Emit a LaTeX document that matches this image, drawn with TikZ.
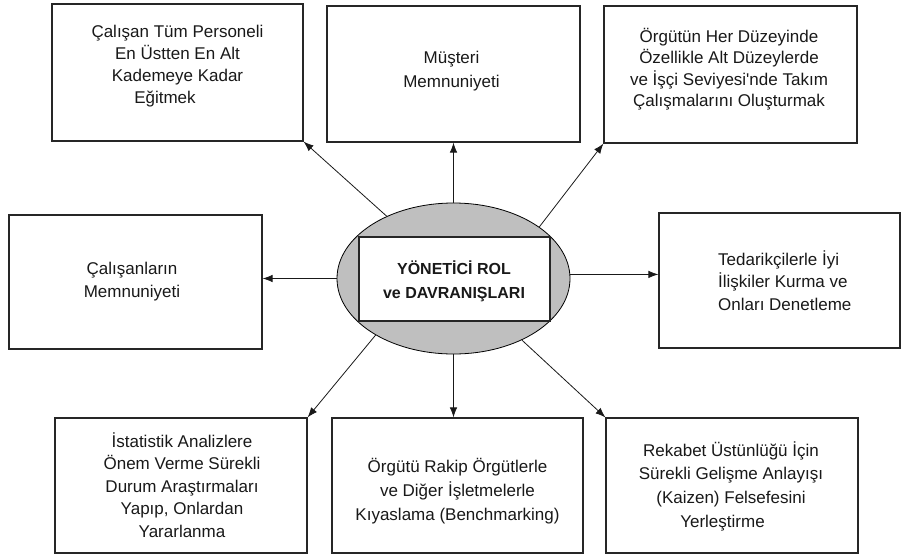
\documentclass[tikz,border=0pt]{standalone}
\usepackage{fontspec}
\setmainfont{Liberation Sans}
\usetikzlibrary{arrows.meta,shapes.geometric}
\newcommand\bxfont[1]{\fontsize{17}{#1}\selectfont}
\begin{document}
\begin{tikzpicture}[x=1pt,y=-1pt,
  box/.style={draw=black!85,line width=1.2pt,rectangle,inner sep=0pt,fill=white},
  txt/.style={inner sep=0pt,anchor=north,align=center,text=black!90},
  arr/.style={draw=black!90,line width=0.8pt,-{Latex[length=10pt,width=7.5pt]}}]
\useasboundingbox (0,0) rectangle (902,555);
% boxes
\node[box,minimum width=251pt,minimum height=137pt] (b1) at (177.5,72.5) {};
\node[box,minimum width=253pt,minimum height=136pt] (b2) at (453.5,74) {};
\node[box,minimum width=253pt,minimum height=137pt] (b3) at (730.5,74.5) {};
\node[box,minimum width=253pt,minimum height=134pt] (b4) at (135.5,282) {};
\node[box,minimum width=241pt,minimum height=135pt] (b5) at (779.5,280.5) {};
\node[box,minimum width=252pt,minimum height=135pt] (b6) at (181,485.5) {};
\node[box,minimum width=251pt,minimum height=135pt] (b7) at (457.5,485.5) {};
\node[box,minimum width=252pt,minimum height=135pt] (b8) at (732,485.5) {};
% texts
\node[txt,font=\bxfont{22}] (t1) at (177.5,21.9) {\strut Çalışan Tüm Personeli\\En Üstten En Alt\\Kademeye Kadar\\Eğitmek\hspace*{25pt}};
\node[txt,font=\bxfont{24}] (t2) at (451.5,46.2) {\strut Müşteri\\Memnuniyeti};
\node[txt,font=\bxfont{21.5}] (t3) at (729,27) {\strut Örgütün Her Düzeyinde\\Özellikle Alt Düzeylerde\\ve İşçi Seviyesi\textquotesingle nde Takım\\Çalışmalarını Oluşturmak};
\node[txt,font=\bxfont{23}] (t4) at (132,257.9) {\strut Çalışanların\\Memnuniyeti};
\node[txt,font=\bxfont{22.5},anchor=north west,align=left] (t5) at (718,249.25) {\strut Tedarikçilerle İyi\\İlişkiler Kurma ve\\Onları Denetleme};
\node[txt,font=\bxfont{22.5}] (t6) at (182,431.25) {\strut İstatistik Analizlere\\Önem Verme Sürekli\\Durum Araştırmaları\\Yapıp, Onlardan\\Yararlanma};
\node[txt,font=\bxfont{24}] (t7) at (457.5,455.2) {\strut Örgütü Rakip Örgütlerle\\ve Diğer İşletmelerle\\Kıyaslama (Benchmarking)};
\node[txt,font=\bxfont{23.7}] (t8) at (731,439.4) {\strut Rekabet Üstünlüğü İçin\\Sürekli Gelişme Anlayışı\\(Kaizen) Felsefesini\hspace*{12pt}\\Yerleştirme\hspace*{17pt}};
% centre
\node[ellipse,draw=black,line width=0.8pt,fill=black!25,minimum width=233pt,minimum height=151pt,inner sep=0pt] (ell) at (453.5,278.5) {};
\node[box,minimum width=191pt,minimum height=84pt] (core) at (454.5,279) {};
\node[txt,font=\fontsize{16}{24}\selectfont\bfseries] (title) at (454,257.2) {\strut YÖNETİCİ ROL\\ve DAVRANIŞLARI};
% connectors
\coordinate (re) at (ell.2.2);
\draw[arr] (ell.137.7) -- (b1.south east);
\draw[arr] (ell.north) -- (ell.north |- b2.south);
\draw[arr] (ell.31.4) -- (b3.south west);
\draw[arr] (ell.west) -- (ell.west -| b4.east);
\draw[arr] (re) -- (re -| b5.west);
\draw[arr] (ell.216.7) -- (b6.north east);
\draw[arr] (ell.south) -- (ell.south |- b7.north);
\draw[arr] (ell.318.1) -- (b8.north west);
\end{tikzpicture}
\end{document}
